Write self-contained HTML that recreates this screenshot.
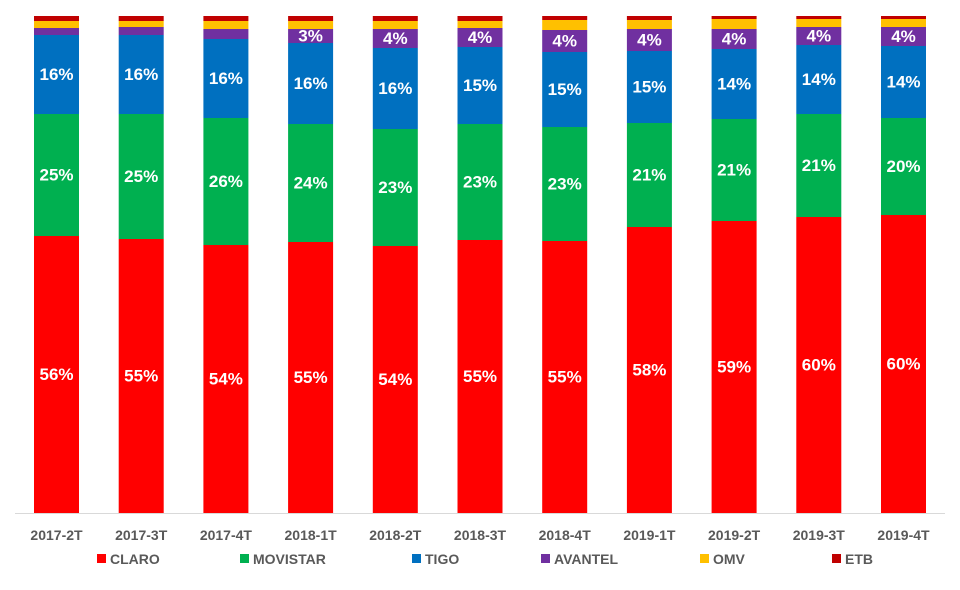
<!DOCTYPE html>
<html><head><meta charset="utf-8"><style>
html,body{margin:0;padding:0;background:#fff;}
svg{display:block;font-family:"Liberation Sans",sans-serif;}
.l{fill:#fff;font-weight:bold;font-size:17px;text-anchor:middle;dominant-baseline:central;}
.x{fill:#595959;font-weight:bold;font-size:14px;text-anchor:middle;}
.g{fill:#595959;font-size:14px;font-weight:bold;}
</style></head><body>
<svg width="960" height="590" viewBox="0 0 960 590" id="s"></svg>
<script>
var d=[
["2017-2T",[21,28,35,114,236],["16%","25%","56%"],null],
["2017-3T",[21,27,35,114,239],["16%","25%","55%"],null],
["2017-4T",[21,29,39,118,245],["16%","26%","54%"],null],
["2018-1T",[21,29,43,124,242],["16%","24%","55%"],"3%"],
["2018-2T",[21,29,48,129,246],["16%","23%","54%"],"4%"],
["2018-3T",[21,28,47,124,240],["15%","23%","55%"],"4%"],
["2018-4T",[20,30,52,127,241],["15%","23%","55%"],"4%"],
["2019-1T",[20,29,51,123,227],["15%","21%","58%"],"4%"],
["2019-2T",[19,29,49,119,221],["14%","21%","59%"],"4%"],
["2019-3T",[19,27,45,114,217],["14%","21%","60%"],"4%"],
["2019-4T",[19,27,46,118,215],["14%","20%","60%"],"4%"]];
var c=["#C00000","#FFC000","#7030A0","#0070C0","#00B050","#FF0000"];
var h='<line x1="15" y1="513.5" x2="945" y2="513.5" stroke="#d9d9d9" stroke-width="1"/>';
d.forEach(function(b,i){
 var x=34+i*84.7,w=45,cx=x+w/2;
 var ys=[16].concat(b[1]).concat([513]);
 for(var k=0;k<6;k++){h+='<rect x="'+x+'" y="'+ys[k]+'" width="'+w+'" height="'+(ys[k+1]-ys[k])+'" fill="'+c[k]+'"/>';}
 if(b[3])h+='<text class="l" x="'+cx+'" y="'+(ys[2]+ys[3])/2+'">'+b[3]+'</text>';
 h+='<text class="l" x="'+cx+'" y="'+(ys[3]+ys[4])/2+'">'+b[2][0]+'</text>';
 h+='<text class="l" x="'+cx+'" y="'+(ys[4]+ys[5])/2+'">'+b[2][1]+'</text>';
 h+='<text class="l" x="'+cx+'" y="'+(ys[5]+ys[6])/2+'">'+b[2][2]+'</text>';
 h+='<text class="x" x="'+cx+'" y="540">'+b[0]+'</text>';
});
var lg=[["CLARO","#FF0000",97],["MOVISTAR","#00B050",240],["TIGO","#0070C0",412],["AVANTEL","#7030A0",541],["OMV","#FFC000",700],["ETB","#C00000",832]];
lg.forEach(function(a){h+='<rect x="'+a[2]+'" y="554" width="9" height="9" fill="'+a[1]+'"/><text class="g" x="'+(a[2]+13)+'" y="564">'+a[0]+'</text>';});
document.getElementById('s').innerHTML=h;
</script>
</body></html>
